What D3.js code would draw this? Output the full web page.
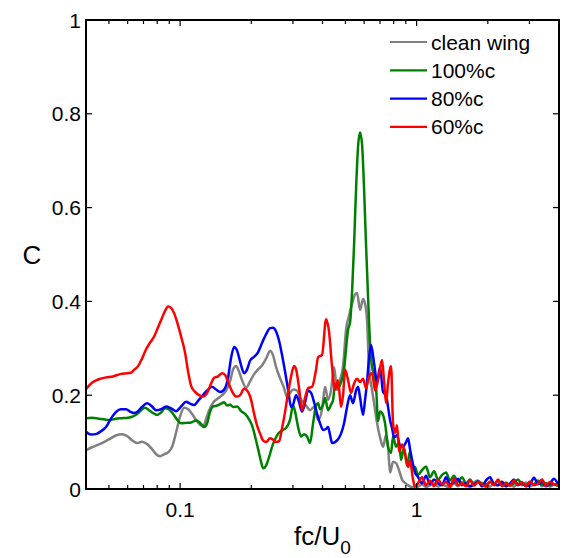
<!DOCTYPE html>
<html><head><meta charset="utf-8">
<script src="https://cdn.jsdelivr.net/npm/d3@7"></script>
<style>body{margin:0;background:#fff}svg{display:block}text{font-family:"Liberation Sans",Arial,sans-serif}</style>
</head><body>
<svg id="c" width="563" height="558"></svg>
<script>
// ---------- data ----------
const seriesNames = ["clean wing", "100%c", "80%c", "60%c"];
const seriesColors = ["#808080", "#008000", "#0000ff", "#ff0000"];
const yTicks = [0, 0.2, 0.4, 0.6, 0.8, 1];
const xTickLabels = [0.1, 1];

const tailFreq = [1.013,1.054,1.096,1.139,1.185,1.232,1.281,1.332,1.384,1.439,1.496,1.556,1.618,1.682,1.749,1.818,1.891,1.965,2.043,2.125,2.209,2.296,2.388,2.482,2.581,2.683,2.790,2.901,3.016,3.136,3.260,3.390,3.524,3.664,3.810,3.961];

const cleanHead = [[0.0400,0.083],[0.0424,0.089],[0.0449,0.094],[0.0476,0.100],[0.0505,0.107],[0.0535,0.114],[0.0568,0.117],[0.0597,0.113],[0.0626,0.104],[0.0658,0.098],[0.0690,0.101],[0.0725,0.096],[0.0761,0.085],[0.0792,0.074],[0.0823,0.070],[0.0856,0.074],[0.0890,0.078],[0.0925,0.090],[0.0961,0.120],[0.1000,0.155],[0.1040,0.173],[0.1081,0.170],[0.1124,0.160],[0.1168,0.147],[0.1215,0.137],[0.1251,0.133],[0.1289,0.150],[0.1327,0.168],[0.1379,0.184],[0.1434,0.192],[0.1505,0.200],[0.1565,0.210],[0.1627,0.230],[0.1675,0.255],[0.1725,0.262],[0.1776,0.250],[0.1828,0.232],[0.1901,0.216],[0.1977,0.230],[0.2056,0.245],[0.2137,0.255],[0.2222,0.264],[0.2309,0.278],[0.2401,0.294],[0.2472,0.285],[0.2546,0.260],[0.2647,0.236],[0.2752,0.215],[0.2834,0.196],[0.2917,0.205],[0.3004,0.212],[0.3123,0.210],[0.3215,0.194],[0.3311,0.185],[0.3409,0.178],[0.3544,0.168],[0.3685,0.175],[0.3831,0.147],[0.3983,0.170],[0.4101,0.218],[0.4223,0.190],[0.4348,0.211],[0.4477,0.260],[0.4609,0.211],[0.4746,0.232],[0.4887,0.262],[0.5032,0.340],[0.5181,0.370],[0.5334,0.395],[0.5492,0.415],[0.5600,0.418],[0.5766,0.382],[0.5937,0.405],[0.6053,0.395],[0.6172,0.360],[0.6294,0.258],[0.6480,0.211],[0.6608,0.183],[0.6803,0.141],[0.7005,0.110],[0.7213,0.090],[0.7426,0.115],[0.7572,0.090],[0.7721,0.035],[0.7950,0.058],[0.8185,0.055],[0.8429,0.040],[0.8678,0.020],[0.8934,0.013],[0.9199,0.008],[0.9565,0.004],[0.9847,0.006]];
const cleanTail = [0.005,0.010,0.004,0.008,0.012,0.005,0.010,0.006,0.004,0.012,0.006,0.015,0.008,0.005,0.014,0.018,0.006,0.010,0.005,0.012,0.008,0.016,0.006,0.010,0.005,0.012,0.008,0.014,0.006,0.010,0.016,0.006,0.012,0.005,0.010,0.008];

const c100Head = [[0.0400,0.151],[0.0424,0.152],[0.0453,0.150],[0.0481,0.148],[0.0505,0.147],[0.0535,0.150],[0.0568,0.151],[0.0602,0.152],[0.0632,0.155],[0.0658,0.160],[0.0684,0.168],[0.0711,0.173],[0.0739,0.168],[0.0768,0.162],[0.0799,0.158],[0.0831,0.163],[0.0864,0.172],[0.0898,0.170],[0.0934,0.160],[0.0971,0.148],[0.1010,0.140],[0.1060,0.141],[0.1113,0.142],[0.1168,0.146],[0.1215,0.141],[0.1263,0.132],[0.1301,0.140],[0.1339,0.165],[0.1379,0.176],[0.1434,0.178],[0.1490,0.182],[0.1535,0.185],[0.1581,0.178],[0.1627,0.180],[0.1675,0.175],[0.1742,0.176],[0.1811,0.166],[0.1883,0.160],[0.1958,0.148],[0.2016,0.135],[0.2075,0.112],[0.2137,0.085],[0.2200,0.058],[0.2244,0.044],[0.2309,0.050],[0.2378,0.068],[0.2448,0.090],[0.2521,0.106],[0.2596,0.118],[0.2699,0.125],[0.2806,0.130],[0.2917,0.148],[0.3004,0.178],[0.3063,0.165],[0.3154,0.132],[0.3246,0.112],[0.3343,0.117],[0.3442,0.112],[0.3544,0.098],[0.3649,0.140],[0.3757,0.178],[0.3831,0.183],[0.3906,0.170],[0.4022,0.180],[0.4101,0.194],[0.4223,0.168],[0.4348,0.180],[0.4434,0.190],[0.4520,0.222],[0.4654,0.215],[0.4792,0.228],[0.4935,0.255],[0.5032,0.300],[0.5131,0.340],[0.5231,0.355],[0.5334,0.420],[0.5439,0.520],[0.5546,0.640],[0.5655,0.730],[0.5766,0.760],[0.5880,0.735],[0.5995,0.640],[0.6112,0.520],[0.6233,0.410],[0.6355,0.310],[0.6480,0.260],[0.6608,0.245],[0.6737,0.218],[0.6870,0.145],[0.7005,0.165],[0.7143,0.162],[0.7354,0.140],[0.7572,0.090],[0.7797,0.077],[0.7950,0.112],[0.8185,0.090],[0.8429,0.100],[0.8593,0.062],[0.8849,0.088],[0.9110,0.050],[0.9380,0.080],[0.9658,0.040],[0.9847,0.047]];
const c100Tail = [0.030,0.040,0.048,0.025,0.038,0.020,0.030,0.035,0.018,0.028,0.015,0.025,0.012,0.020,0.010,0.016,0.012,0.008,0.015,0.010,0.018,0.008,0.014,0.008,0.012,0.020,0.010,0.008,0.015,0.010,0.018,0.008,0.012,0.008,0.010,0.006];

const c80Head = [[0.0400,0.122],[0.0420,0.116],[0.0440,0.117],[0.0462,0.123],[0.0486,0.132],[0.0510,0.150],[0.0535,0.164],[0.0562,0.170],[0.0591,0.170],[0.0614,0.165],[0.0638,0.162],[0.0664,0.166],[0.0690,0.175],[0.0725,0.183],[0.0753,0.178],[0.0792,0.168],[0.0831,0.170],[0.0872,0.176],[0.0916,0.172],[0.0961,0.166],[0.1010,0.176],[0.1060,0.186],[0.1102,0.182],[0.1146,0.179],[0.1191,0.188],[0.1239,0.198],[0.1301,0.210],[0.1365,0.218],[0.1420,0.212],[0.1476,0.207],[0.1535,0.212],[0.1596,0.238],[0.1643,0.280],[0.1692,0.303],[0.1742,0.295],[0.1793,0.272],[0.1864,0.247],[0.1920,0.255],[0.1977,0.274],[0.2056,0.282],[0.2137,0.292],[0.2222,0.312],[0.2309,0.330],[0.2401,0.343],[0.2472,0.344],[0.2546,0.336],[0.2621,0.316],[0.2699,0.285],[0.2779,0.250],[0.2862,0.211],[0.2946,0.175],[0.3004,0.180],[0.3093,0.200],[0.3185,0.185],[0.3278,0.165],[0.3376,0.185],[0.3476,0.210],[0.3579,0.205],[0.3685,0.185],[0.3794,0.160],[0.3906,0.140],[0.4022,0.126],[0.4141,0.128],[0.4223,0.132],[0.4306,0.115],[0.4391,0.098],[0.4520,0.100],[0.4654,0.106],[0.4792,0.118],[0.4935,0.140],[0.5081,0.175],[0.5231,0.200],[0.5386,0.183],[0.5546,0.210],[0.5655,0.218],[0.5766,0.195],[0.5937,0.158],[0.6053,0.190],[0.6172,0.228],[0.6294,0.280],[0.6417,0.307],[0.6608,0.269],[0.6803,0.228],[0.7005,0.260],[0.7213,0.207],[0.7426,0.200],[0.7572,0.175],[0.7721,0.147],[0.7873,0.130],[0.8028,0.110],[0.8266,0.115],[0.8510,0.092],[0.8763,0.090],[0.9021,0.100],[0.9199,0.108],[0.9380,0.085],[0.9565,0.062],[0.9847,0.035]];
const c80Tail = [0.026,0.012,0.028,0.010,0.020,0.012,0.008,0.025,0.010,0.014,0.022,0.008,0.012,0.006,0.010,0.016,0.006,0.018,0.025,0.010,0.008,0.015,0.006,0.012,0.020,0.008,0.014,0.006,0.010,0.024,0.010,0.015,0.006,0.012,0.022,0.010];

const c60Head = [[0.0400,0.213],[0.0428,0.228],[0.0453,0.234],[0.0486,0.238],[0.0520,0.240],[0.0557,0.245],[0.0597,0.247],[0.0620,0.248],[0.0638,0.254],[0.0664,0.262],[0.0690,0.278],[0.0718,0.298],[0.0746,0.312],[0.0776,0.325],[0.0807,0.345],[0.0839,0.365],[0.0864,0.380],[0.0890,0.389],[0.0916,0.386],[0.0943,0.375],[0.0971,0.356],[0.1010,0.325],[0.1050,0.290],[0.1081,0.250],[0.1113,0.220],[0.1157,0.207],[0.1203,0.200],[0.1251,0.197],[0.1301,0.205],[0.1352,0.225],[0.1392,0.237],[0.1448,0.240],[0.1505,0.247],[0.1550,0.243],[0.1596,0.228],[0.1659,0.208],[0.1725,0.197],[0.1793,0.200],[0.1864,0.214],[0.1939,0.207],[0.1996,0.190],[0.2056,0.160],[0.2116,0.135],[0.2179,0.118],[0.2244,0.103],[0.2309,0.100],[0.2401,0.108],[0.2472,0.105],[0.2546,0.100],[0.2621,0.102],[0.2699,0.130],[0.2779,0.165],[0.2862,0.205],[0.2946,0.240],[0.3033,0.262],[0.3093,0.255],[0.3185,0.215],[0.3278,0.168],[0.3376,0.195],[0.3476,0.215],[0.3614,0.218],[0.3757,0.255],[0.3831,0.281],[0.3983,0.286],[0.4141,0.362],[0.4264,0.335],[0.4391,0.260],[0.4520,0.212],[0.4654,0.232],[0.4792,0.175],[0.4887,0.200],[0.4983,0.254],[0.5131,0.232],[0.5282,0.205],[0.5439,0.225],[0.5600,0.235],[0.5766,0.228],[0.5937,0.235],[0.6112,0.215],[0.6294,0.240],[0.6480,0.247],[0.6672,0.210],[0.6870,0.232],[0.7143,0.275],[0.7284,0.230],[0.7426,0.183],[0.7572,0.226],[0.7797,0.262],[0.7950,0.140],[0.8106,0.120],[0.8266,0.136],[0.8429,0.080],[0.8678,0.095],[0.8934,0.075],[0.9199,0.047],[0.9380,0.060],[0.9658,0.020],[0.9847,0.005]];
const c60Tail = [0.012,0.025,0.008,0.018,0.006,0.020,0.010,0.015,0.005,0.022,0.008,0.012,0.006,0.018,0.007,0.015,0.010,0.005,0.016,0.008,0.020,0.006,0.012,0.007,0.018,0.009,0.014,0.006,0.016,0.008,0.012,0.020,0.007,0.015,0.010,0.008];

// ---------- build ----------
function full(head, tail) { return head.concat(tail.map((c, i) => [tailFreq[i], c])); }
const allSeries = [full(cleanHead, cleanTail), full(c100Head, c100Tail), full(c80Head, c80Tail), full(c60Head, c60Tail)];

const L = 86, R = 559, T = 20, B = 489;
const svg = d3.select("#c");
const x = d3.scaleLog().domain([0.04, 4]).range([L, R]);
const y = d3.scaleLinear().domain([0, 1]).range([B, T]);

const clip = svg.append("defs").append("clipPath").attr("id", "pc");
clip.append("rect").attr("x", L).attr("y", T).attr("width", R - L).attr("height", B - T);

const line = d3.line().x(d => x(d[0])).y(d => y(d[1])).curve(d3.curveMonotoneX);
const g = svg.append("g").attr("clip-path", "url(#pc)");
allSeries.forEach((s, i) => {
  g.append("path").datum(s).attr("d", line).attr("fill", "none")
    .attr("stroke", seriesColors[i]).attr("stroke-width", 2.5).attr("stroke-linejoin", "round");
});

// ticks (inward), MATLAB-like
const minorX = [];
[0.01, 0.1, 1].forEach(dec => { for (let k = 1; k <= 9; k++) { const v = dec * k; if (v >= 0.04 && v <= 4) minorX.push(v); } });
const tg = svg.append("g").attr("stroke", "#000").attr("stroke-width", 1.2);
minorX.forEach(v => {
  const major = xTickLabels.includes(+v.toFixed(6));
  const len = major ? 6 : 4;
  tg.append("line").attr("x1", x(v)).attr("x2", x(v)).attr("y1", B).attr("y2", B - len);
  tg.append("line").attr("x1", x(v)).attr("x2", x(v)).attr("y1", T).attr("y2", T + len);
});
yTicks.forEach(v => {
  tg.append("line").attr("x1", L).attr("x2", L + 6).attr("y1", y(v)).attr("y2", y(v));
  tg.append("line").attr("x1", R).attr("x2", R - 6).attr("y1", y(v)).attr("y2", y(v));
});

// axis box
svg.append("rect").attr("x", L).attr("y", T).attr("width", R - L).attr("height", B - T)
  .attr("fill", "none").attr("stroke", "#000").attr("stroke-width", 2);

// tick labels
const fmt = v => (v === 0 || v === 1) ? String(v) : v.toFixed(1);
svg.append("g").selectAll("text").data(yTicks).join("text")
  .attr("x", L - 5).attr("y", d => y(d)).attr("dy", "0.36em").attr("text-anchor", "end")
  .attr("font-size", 21).text(fmt);
svg.append("g").selectAll("text").data(xTickLabels).join("text")
  .attr("x", d => x(d)).attr("y", 517).attr("text-anchor", "middle")
  .attr("font-size", 21).text(d => String(d));

// axis labels
const xl = svg.append("text").attr("x", (L + R) / 2).attr("y", 545).attr("text-anchor", "middle").attr("font-size", 26);
xl.append("tspan").text("fc/U");
xl.append("tspan").attr("dy", 9).attr("font-size", 19).text("0");
svg.append("text").attr("x", 32).attr("y", (T + B) / 2).attr("dy", "0.36em").attr("text-anchor", "middle")
  .attr("font-size", 26).text("C");

// legend
const lg = svg.append("g");
seriesNames.forEach((n, i) => {
  const yy = 42 + i * 28.3;
  lg.append("line").attr("x1", 390).attr("x2", 427).attr("y1", yy).attr("y2", yy)
    .attr("stroke", seriesColors[i]).attr("stroke-width", 2.2);
  lg.append("text").attr("x", 431).attr("y", yy).attr("dy", "0.36em").attr("font-size", 21).text(n);
});
</script>
</body></html>
